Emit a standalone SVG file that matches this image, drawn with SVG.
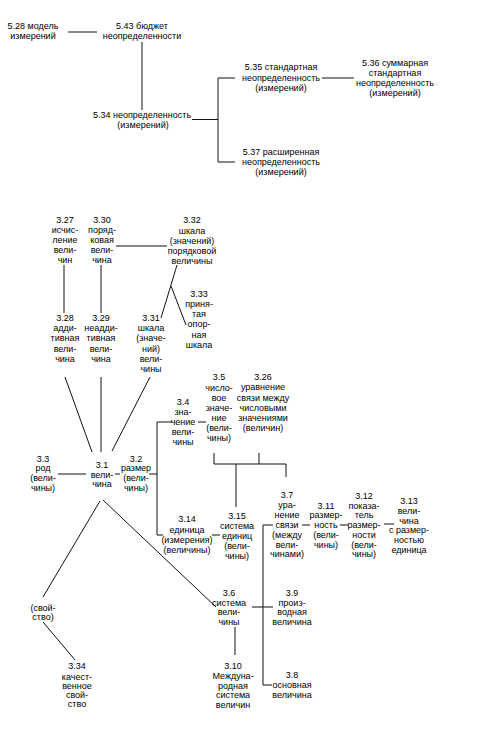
<svg xmlns="http://www.w3.org/2000/svg" width="477" height="730" viewBox="0 0 477 730">
<style>
text{font-family:"Liberation Sans",Arial,sans-serif;font-size:9px;fill:#000;text-anchor:middle}
.c line,.c polyline{stroke:#111;stroke-width:1;fill:none}
</style>
<rect width="477" height="730" fill="#fff"/>
<g class="c" id="connectors">
<line x1="68" y1="32" x2="97" y2="32"/>
<line x1="142" y1="42" x2="142" y2="110"/>
<line x1="192" y1="119.5" x2="218" y2="119.5"/>
<polyline points="235,78 218,78 218,162 235,162"/>
<line x1="322" y1="78" x2="354" y2="78"/>
<line x1="64" y1="265" x2="64" y2="313"/>
<line x1="101" y1="265" x2="101" y2="313"/>
<line x1="116" y1="246" x2="167" y2="246"/>
<line x1="177" y1="265" x2="161" y2="318"/>
<line x1="171" y1="286" x2="186" y2="325"/>
<line x1="65" y1="377" x2="92" y2="452"/>
<line x1="101" y1="377" x2="101" y2="452"/>
<line x1="150" y1="377" x2="112" y2="451"/>
<line x1="58" y1="474" x2="86" y2="474"/>
<line x1="115" y1="474" x2="120" y2="474"/>
<line x1="149" y1="474" x2="157" y2="474"/>
<polyline points="172,422 157,422 157,535 163,535"/>
<line x1="198" y1="422" x2="206" y2="422"/>
<line x1="212" y1="535" x2="220" y2="535"/>
<polyline points="214,453 214,464 286,464 286,477"/>
<line x1="259" y1="453" x2="259" y2="464"/>
<line x1="236" y1="464" x2="236" y2="507"/>
<polyline points="273,525 263,525 263,685 272,685"/>
<line x1="302" y1="525" x2="310" y2="525"/>
<line x1="340" y1="525" x2="348" y2="525"/>
<line x1="384" y1="524" x2="394" y2="524"/>
<line x1="103" y1="500" x2="216" y2="607"/>
<line x1="100" y1="501" x2="43" y2="597"/>
<line x1="43" y1="622" x2="75" y2="660"/>
<line x1="252" y1="607" x2="273" y2="607"/>
<line x1="235" y1="627" x2="235" y2="655"/>
</g>
<g id="n528"><text x="33" y="29">5.28 модель</text><text x="33" y="39">измерений</text></g>
<g id="n543"><text x="142" y="29">5.43 бюджет</text><text x="142" y="39">неопределенности</text></g>
<g id="n534"><text x="142" y="118">5.34 неопределенность</text><text x="143" y="128">(измерений)</text></g>
<g id="n535"><text x="281" y="70">5.35 стандартная</text><text x="281" y="81">неопределенность</text><text x="281" y="91">(измерений)</text></g>
<g id="n536"><text x="395" y="66">5.36 суммарная</text><text x="395" y="76">стандартная</text><text x="395" y="86">неопределенность</text><text x="395" y="96">(измерений)</text></g>
<g id="n537"><text x="281" y="155">5.37 расширенная</text><text x="281" y="165">неопределенность</text><text x="281" y="175">(измерений)</text></g>
<g id="n327"><text x="65" y="223">3.27</text><text x="65" y="233">исчис-</text><text x="65" y="243">ление</text><text x="65" y="253">вели-</text><text x="65" y="263">чин</text></g>
<g id="n330"><text x="102" y="223">3.30</text><text x="102" y="233">поряд-</text><text x="102" y="243">ковая</text><text x="102" y="253">вели-</text><text x="102" y="263">чина</text></g>
<g id="n332"><text x="192" y="223">3.32</text><text x="192" y="234">шкала</text><text x="192" y="244">(значений)</text><text x="192" y="254">порядковой</text><text x="192" y="264">величины</text></g>
<g id="n328"><text x="65" y="321">3.28</text><text x="65" y="331">адди-</text><text x="65" y="341">тивная</text><text x="65" y="352">вели-</text><text x="65" y="362">чина</text></g>
<g id="n329"><text x="101" y="321">3.29</text><text x="101" y="331">неадди-</text><text x="101" y="341">тивная</text><text x="101" y="352">вели-</text><text x="101" y="362">чина</text></g>
<g id="n331"><text x="151" y="321">3.31</text><text x="151" y="331">шкала</text><text x="151" y="341">(значе-</text><text x="151" y="352">ний)</text><text x="151" y="362">вели-</text><text x="151" y="372">чины</text></g>
<g id="n333"><text x="199" y="297">3.33</text><text x="199" y="307">приня-</text><text x="199" y="317">тая</text><text x="199" y="327">опор-</text><text x="199" y="338">ная</text><text x="199" y="348">шкала</text></g>
<g id="n31"><text x="102" y="468">3.1</text><text x="102" y="478">вели-</text><text x="102" y="487">чина</text></g>
<g id="n33"><text x="43" y="462">3.3</text><text x="43" y="471">род</text><text x="43" y="481">(вели-</text><text x="43" y="491">чины)</text></g>
<g id="n32"><text x="136" y="462">3.2</text><text x="136" y="471">размер</text><text x="136" y="481">(вели-</text><text x="136" y="491">чины)</text></g>
<g id="n34"><text x="183" y="405">3.4</text><text x="183" y="415">зна-</text><text x="183" y="425">чение</text><text x="183" y="435">вели-</text><text x="183" y="445">чины</text></g>
<g id="n35"><text x="219" y="380">3.5</text><text x="219" y="391">число-</text><text x="219" y="401">вое</text><text x="219" y="411">значе-</text><text x="219" y="421">ние</text><text x="219" y="431">(вели-</text><text x="219" y="441">чины)</text></g>
<g id="n326"><text x="263" y="380">3.26</text><text x="263" y="390">уравнение</text><text x="263" y="401">связи между</text><text x="263" y="411">числовыми</text><text x="263" y="421">значениями</text><text x="263" y="431">(величин)</text></g>
<g id="n314"><text x="187" y="522">3.14</text><text x="187" y="533">единица</text><text x="187" y="543">(измерения)</text><text x="187" y="553">(величины)</text></g>
<g id="n315"><text x="237" y="519">3.15</text><text x="237" y="529">система</text><text x="237" y="539">единиц</text><text x="237" y="549">(вели-</text><text x="237" y="559">чины)</text></g>
<g id="n37"><text x="287" y="498">3.7</text><text x="287" y="508">ура-</text><text x="287" y="518">нение</text><text x="287" y="528">связи</text><text x="287" y="538">(между</text><text x="287" y="548">вели-</text><text x="287" y="557">чинами)</text></g>
<g id="n311"><text x="326" y="509">3.11</text><text x="326" y="518">размер-</text><text x="326" y="528">ность</text><text x="326" y="538">(вели-</text><text x="326" y="548">чины)</text></g>
<g id="n312"><text x="364" y="499">3.12</text><text x="364" y="509">показа-</text><text x="364" y="518">тель</text><text x="364" y="528">размер-</text><text x="364" y="538">ности</text><text x="364" y="548">(вели-</text><text x="364" y="557">чины)</text></g>
<g id="n313"><text x="409" y="504">3.13</text><text x="409" y="514">вели-</text><text x="409" y="524">чина</text><text x="409" y="533">с размер-</text><text x="409" y="543">ностью</text><text x="409" y="553">единица</text></g>
<g id="nsv"><text x="43" y="611">(свой-</text><text x="43" y="620">ство)</text></g>
<g id="n334"><text x="77" y="669">3.34</text><text x="77" y="680">качест-</text><text x="77" y="689">венное</text><text x="77" y="698">свой-</text><text x="77" y="707">ство</text></g>
<g id="n36"><text x="229" y="596">3.6</text><text x="229" y="606">система</text><text x="229" y="615">вели-</text><text x="229" y="625">чины</text></g>
<g id="n39"><text x="292" y="596">3.9</text><text x="292" y="606">произ-</text><text x="292" y="615">водная</text><text x="292" y="625">величина</text></g>
<g id="n310"><text x="233" y="669">3.10</text><text x="233" y="679">Междуна-</text><text x="233" y="689">родная</text><text x="233" y="698">система</text><text x="233" y="708">величин</text></g>
<g id="n38"><text x="292" y="678">3.8</text><text x="292" y="688">основная</text><text x="292" y="698">величина</text></g>
</svg>
